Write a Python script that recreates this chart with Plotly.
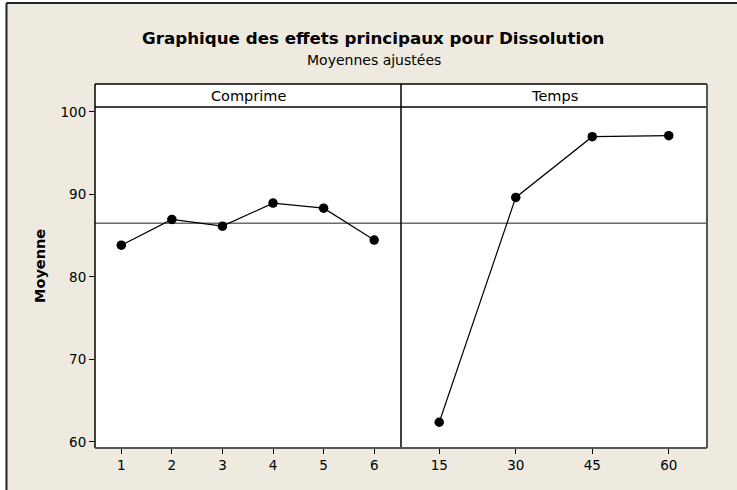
import plotly.graph_objects as go

# ---- data ----
comprime_levels = ["1", "2", "3", "4", "5", "6"]
comprime_means = [83.85, 86.97, 86.16, 88.95, 88.34, 84.47]
temps_levels = ["15", "30", "45", "60"]
temps_means = [62.39, 89.64, 97.0, 97.13]
grand_mean = 86.5
y_ticks = [60, 70, 80, 90, 100]
panel_titles = ["Comprime", "Temps"]

W, H = 737, 490
L, R, T, B = 95, 30, 107, 42
plot_h = H - T - B
header_top = 1 + 23 / plot_h
bg = "#EEEAE0"
font = "DejaVu Sans"

fig = go.Figure()
fig.add_trace(go.Scatter(x=comprime_levels, y=comprime_means, mode="lines+markers",
                         line=dict(color="black", width=1.2),
                         marker=dict(color="black", size=9.5),
                         xaxis="x", yaxis="y", showlegend=False))
fig.add_trace(go.Scatter(x=temps_levels, y=temps_means, mode="lines+markers",
                         line=dict(color="black", width=1.2),
                         marker=dict(color="black", size=9.5),
                         xaxis="x2", yaxis="y2", showlegend=False))

yrange = [59.27, 100.6]
axis_common = dict(showgrid=False, zeroline=False, ticks="outside", ticklen=5,
                   tickcolor="black", tickfont=dict(family=font, size=13.5, color="black"),
                   showline=False)
fig.update_layout(
    width=W, height=H,
    margin=dict(l=L, r=R, t=T, b=B),
    paper_bgcolor=bg, plot_bgcolor="white",
    font=dict(family=font, color="black"),
    xaxis=dict(domain=[0, 0.5], type="category", range=[-0.52, 5.53], **axis_common),
    xaxis2=dict(domain=[0.5, 1], type="category", range=[-0.5, 3.5], **axis_common),
    yaxis=dict(range=yrange, tickvals=y_ticks, anchor="x", **axis_common),
    yaxis2=dict(range=yrange, anchor="x2", showticklabels=False, showgrid=False,
                zeroline=False, ticks=""),
)

shapes = []
# grand mean reference line across both panels
for xr, yr in (("x domain", "y"), ("x2 domain", "y2")):
    shapes.append(dict(type="line", xref=xr, yref=yr, x0=0, x1=1,
                       y0=grand_mean, y1=grand_mean,
                       line=dict(color="#6B6B6B", width=1.5), layer="below"))
# header backgrounds
shapes.append(dict(type="rect", xref="paper", yref="paper", x0=0, x1=1, y0=1, y1=header_top,
                   fillcolor="white", line=dict(width=0), layer="below"))
# panel frame
blk = dict(color="black", width=1.5)
gry = dict(color="#555555", width=2)
shapes += [
    dict(type="line", xref="paper", yref="paper", x0=0, x1=0, y0=0, y1=header_top, line=blk),
    dict(type="line", xref="paper", yref="paper", x0=0, x1=1, y0=header_top, y1=header_top, line=blk),
    dict(type="line", xref="paper", yref="paper", x0=0, x1=1, y0=1, y1=1, line=blk),
    dict(type="line", xref="paper", yref="paper", x0=0.5, x1=0.5, y0=0, y1=header_top, line=blk),
    dict(type="line", xref="paper", yref="paper", x0=1, x1=1, y0=0, y1=header_top, line=gry),
    dict(type="line", xref="paper", yref="paper", x0=0, x1=1, y0=0, y1=0, line=gry),
]
# outer border (top & left)
px = lambda v: (v - L) / (W - L - R)
py = lambda v: (H - B - v) / plot_h
shapes += [
    dict(type="line", xref="paper", yref="paper", x0=px(6.5), x1=px(6.5), y0=py(3), y1=py(490), line=dict(color="#222", width=2)),
    dict(type="line", xref="paper", yref="paper", x0=px(6.5), x1=px(737), y0=py(3), y1=py(3), line=dict(color="#222", width=2)),
    dict(type="rect", xref="paper", yref="paper", x0=px(0), x1=px(5.5), y0=py(0), y1=py(490), fillcolor="white", line=dict(width=0), layer="below"),
    dict(type="rect", xref="paper", yref="paper", x0=px(0), x1=px(737), y0=py(0), y1=py(2), fillcolor="white", line=dict(width=0), layer="below"),
]
fig.update_layout(shapes=shapes)

ann = []
for i, t in enumerate(panel_titles):
    ann.append(dict(text=t, xref="paper", yref="paper", x=0.25 + 0.5 * i, y=(1 + header_top) / 2,
                    showarrow=False, font=dict(family=font, size=14.5, color="black"),
                    xanchor="center", yanchor="middle"))
ann.append(dict(text="<b>Graphique des effets principaux pour Dissolution</b>", xref="paper", yref="paper",
                x=px(373), y=py(38), showarrow=False, font=dict(family=font, size=16.7, color="black"),
                xanchor="center", yanchor="middle"))
ann.append(dict(text="Moyennes ajustées", xref="paper", yref="paper",
                x=px(374), y=py(60), showarrow=False, font=dict(family=font, size=14, color="black"),
                xanchor="center", yanchor="middle"))
ann.append(dict(text="<b>Moyenne</b>", xref="paper", yref="paper",
                x=px(40), y=py(266), showarrow=False, textangle=-90,
                font=dict(family=font, size=14.5, color="black"),
                xanchor="center", yanchor="middle"))
fig.update_layout(annotations=ann)

fig.write_html("out.html", config={"displayModeBar": False},
               post_script="document.body.style.margin='0px';")
